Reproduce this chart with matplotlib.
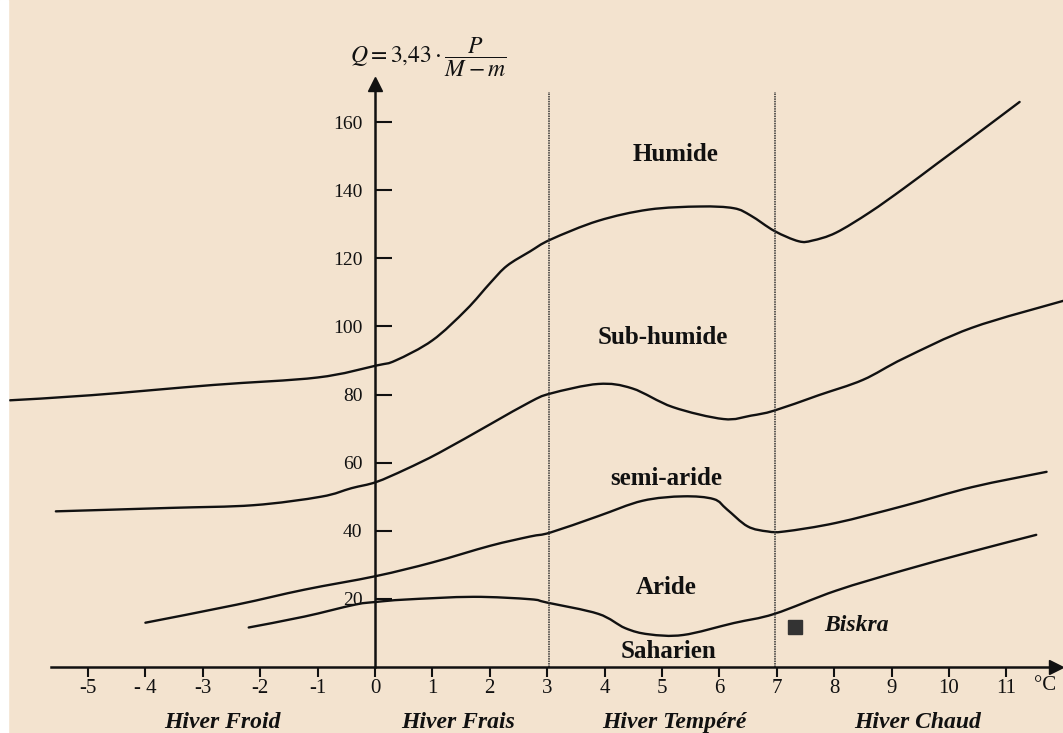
import numpy as np
import matplotlib
matplotlib.use('Agg')
import matplotlib.pyplot as plt
from matplotlib.patches import Rectangle, PathPatch
from matplotlib.path import Path

#* limit curves of the Emberger climagram (x = m in °C, y = Q)
humid_x = [-6.36, -4.94, -2.82, -1.0, 0.02, 0.36, 1.0, 1.59, 2.01, 2.30, 2.70, 3.06, 3.89, 4.77,
           5.66, 6.25, 6.55, 6.96, 7.38, 7.62, 8.03, 8.62, 9.21, 9.80, 10.4, 11.23]
humid_y = [78.3, 79.8, 82.8, 85.0, 88.5, 90.0, 95.9, 104.9, 112.8, 117.8, 122.0, 125.5, 131.0, 134.3,
           135.2, 134.7, 132.5, 128.0, 125.0, 125.2, 127.5, 133.5, 140.5, 147.9, 155.4, 165.9]

subhum_x = [-5.56, -3.59, -2.12, -0.94, -0.41, 0.02, 0.53, 1.12, 2.01, 2.70, 3.06, 3.89, 4.48,
            5.19, 6.07, 6.55, 6.96, 7.73, 8.50, 9.21, 10.4, 11.99]
subhum_y = [45.7, 46.7, 47.5, 50.0, 52.5, 54.3, 58.0, 62.9, 71.3, 77.8, 80.3, 83.1, 81.8,
            76.3, 72.8, 73.8, 75.3, 79.8, 84.3, 90.6, 99.6, 107.5]

semi_x = [-4.0, -2.41, -1.23, 0.02, 1.0, 2.01, 2.70, 3.06, 3.89, 4.66, 5.37, 5.90, 6.13,
          6.49, 6.84, 7.14, 8.03, 9.21, 10.4, 11.70]
semi_y = [13.0, 18.3, 22.7, 26.7, 30.7, 35.6, 38.3, 39.5, 44.3, 48.8, 50.1, 49.3, 46.3,
          41.3, 39.8, 39.8, 42.3, 47.3, 52.8, 57.3]

arid_x = [-2.20, -1.23, -0.35, 0.02, 0.53, 1.71, 2.70, 3.0, 3.89, 4.36, 4.77, 5.37, 6.25,
          6.96, 8.03, 9.21, 10.4, 11.52]
arid_y = [11.6, 14.8, 18.3, 19.1, 19.8, 20.6, 19.9, 18.9, 15.6, 11.4, 9.6, 9.4, 12.9,
          15.6, 22.4, 28.4, 33.9, 38.8]

winter_limits = [3.03, 6.96]

x_ticks = list(range(-5, 12))
x_ticklabels = ['-5', '- 4', '-3', '-2', '-1', '0', '1', '2', '3', '4', '5', '6', '7', '8', '9', '10', '11']
y_ticks = [20, 40, 60, 80, 100, 120, 140, 160]

zone_names = ['Humide', 'Sub-humide', 'semi-aride', 'Aride', 'Saharien']
zone_x = [5.24, 5.02, 5.07, 5.07, 5.12]
zone_y = [150.4, 96.7, 55.3, 23.4, 4.6]

winter_names = ['Hiver Froid', 'Hiver Frais', 'Hiver Tempéré', 'Hiver Chaud']
winter_x = [-2.66, 1.45, 5.21, 9.46]

biskra_x, biskra_y = 7.32, 11.7

bg = '#f3e3cf'
ink = '#111111'
plt.rcParams['font.family'] = ['Liberation Serif', 'DejaVu Serif']
plt.rcParams['mathtext.fontset'] = 'stix'


def smooth_curve(xs, ys):
    # bezier segments through the read points (catmull-rom tangents)
    p = np.column_stack([xs, ys])
    n = len(p)
    verts = [p[0]]
    codes = [Path.MOVETO]
    for i in range(n - 1):
        p0 = p[i - 1] if i > 0 else p[i]
        p1, p2 = p[i], p[i + 1]
        p3 = p[i + 2] if i + 2 < n else p[i + 1]
        verts += [p1 + (p2 - p0) / 6, p2 - (p3 - p1) / 6, p2]
        codes += [Path.CURVE4] * 3
    return Path(verts, codes)


fig = plt.figure(figsize=(10.63, 7.33), dpi=100)
fig.patch.set_facecolor(bg)
ax = fig.add_axes([0, 0, 1, 1])
ax.set_facecolor(bg)
ax.set_xlim(-6.533, 11.986)
ax.set_ylim(-19.38, 195.83)

# axes through the origin
for s in ['top', 'right']:
    ax.spines[s].set_visible(False)
ax.spines['left'].set_position(('data', 0))
ax.spines['bottom'].set_position(('data', 0))
ax.spines['left'].set_bounds(0, 170)
ax.spines['bottom'].set_bounds(-5.64, 11.8)
for s in ['left', 'bottom']:
    ax.spines[s].set_linewidth(1.8)
    ax.spines[s].set_color(ink)
ax.plot(11.86, 0, marker='>', ms=10, color=ink, clip_on=False)
ax.plot(0, 171.2, marker='^', ms=10, color=ink, clip_on=False)

ax.set_xticks(x_ticks)
ax.set_xticklabels(x_ticklabels)
ax.set_yticks(y_ticks)
ax.tick_params(axis='x', direction='out', length=7, width=1.5, pad=2, labelsize=15, colors=ink)
ax.tick_params(axis='y', direction='in', length=12, width=1.5, pad=9, labelsize=14, colors=ink)
ax.text(11.67, -5.4, '°C', fontsize=15, ha='center', va='center', color=ink)

# limits between winter types
for xv in winter_limits:
    ax.plot([xv, xv], [0, 168.8], color='#333333', lw=1.1, ls=(0, (1, 0.6)))

for cx, cy in [(humid_x, humid_y), (subhum_x, subhum_y), (semi_x, semi_y), (arid_x, arid_y)]:
    ax.add_patch(PathPatch(smooth_curve(cx, cy), fill=False, edgecolor=ink, lw=1.7,
                           capstyle='round', joinstyle='round'))

for name, zx, zy in zip(zone_names, zone_x, zone_y):
    ax.text(zx, zy, name, fontsize=18, fontweight='bold', ha='center', va='center', color=ink)

for name, wx in zip(winter_names, winter_x):
    ax.text(wx, -16.2, name, fontsize=17, fontweight='bold', style='italic', ha='center', va='center',
            color=ink)

ax.plot(biskra_x, biskra_y, marker='s', ms=10, color='#333333', ls='none')
ax.text(7.82, 12.2, 'Biskra', fontsize=17, fontweight='bold', style='italic', ha='left', va='center',
        color=ink)

ax.text(-0.44, 179.0, r'$Q = 3{,}43\cdot\dfrac{P}{M-m}$', fontsize=17, ha='left', va='center', color=ink)

fig.patches.append(Rectangle((0, 0), 8 / 1063, 1, transform=fig.transFigure, color='white', zorder=10))

fig.savefig('out.png', dpi=100, facecolor=bg)
